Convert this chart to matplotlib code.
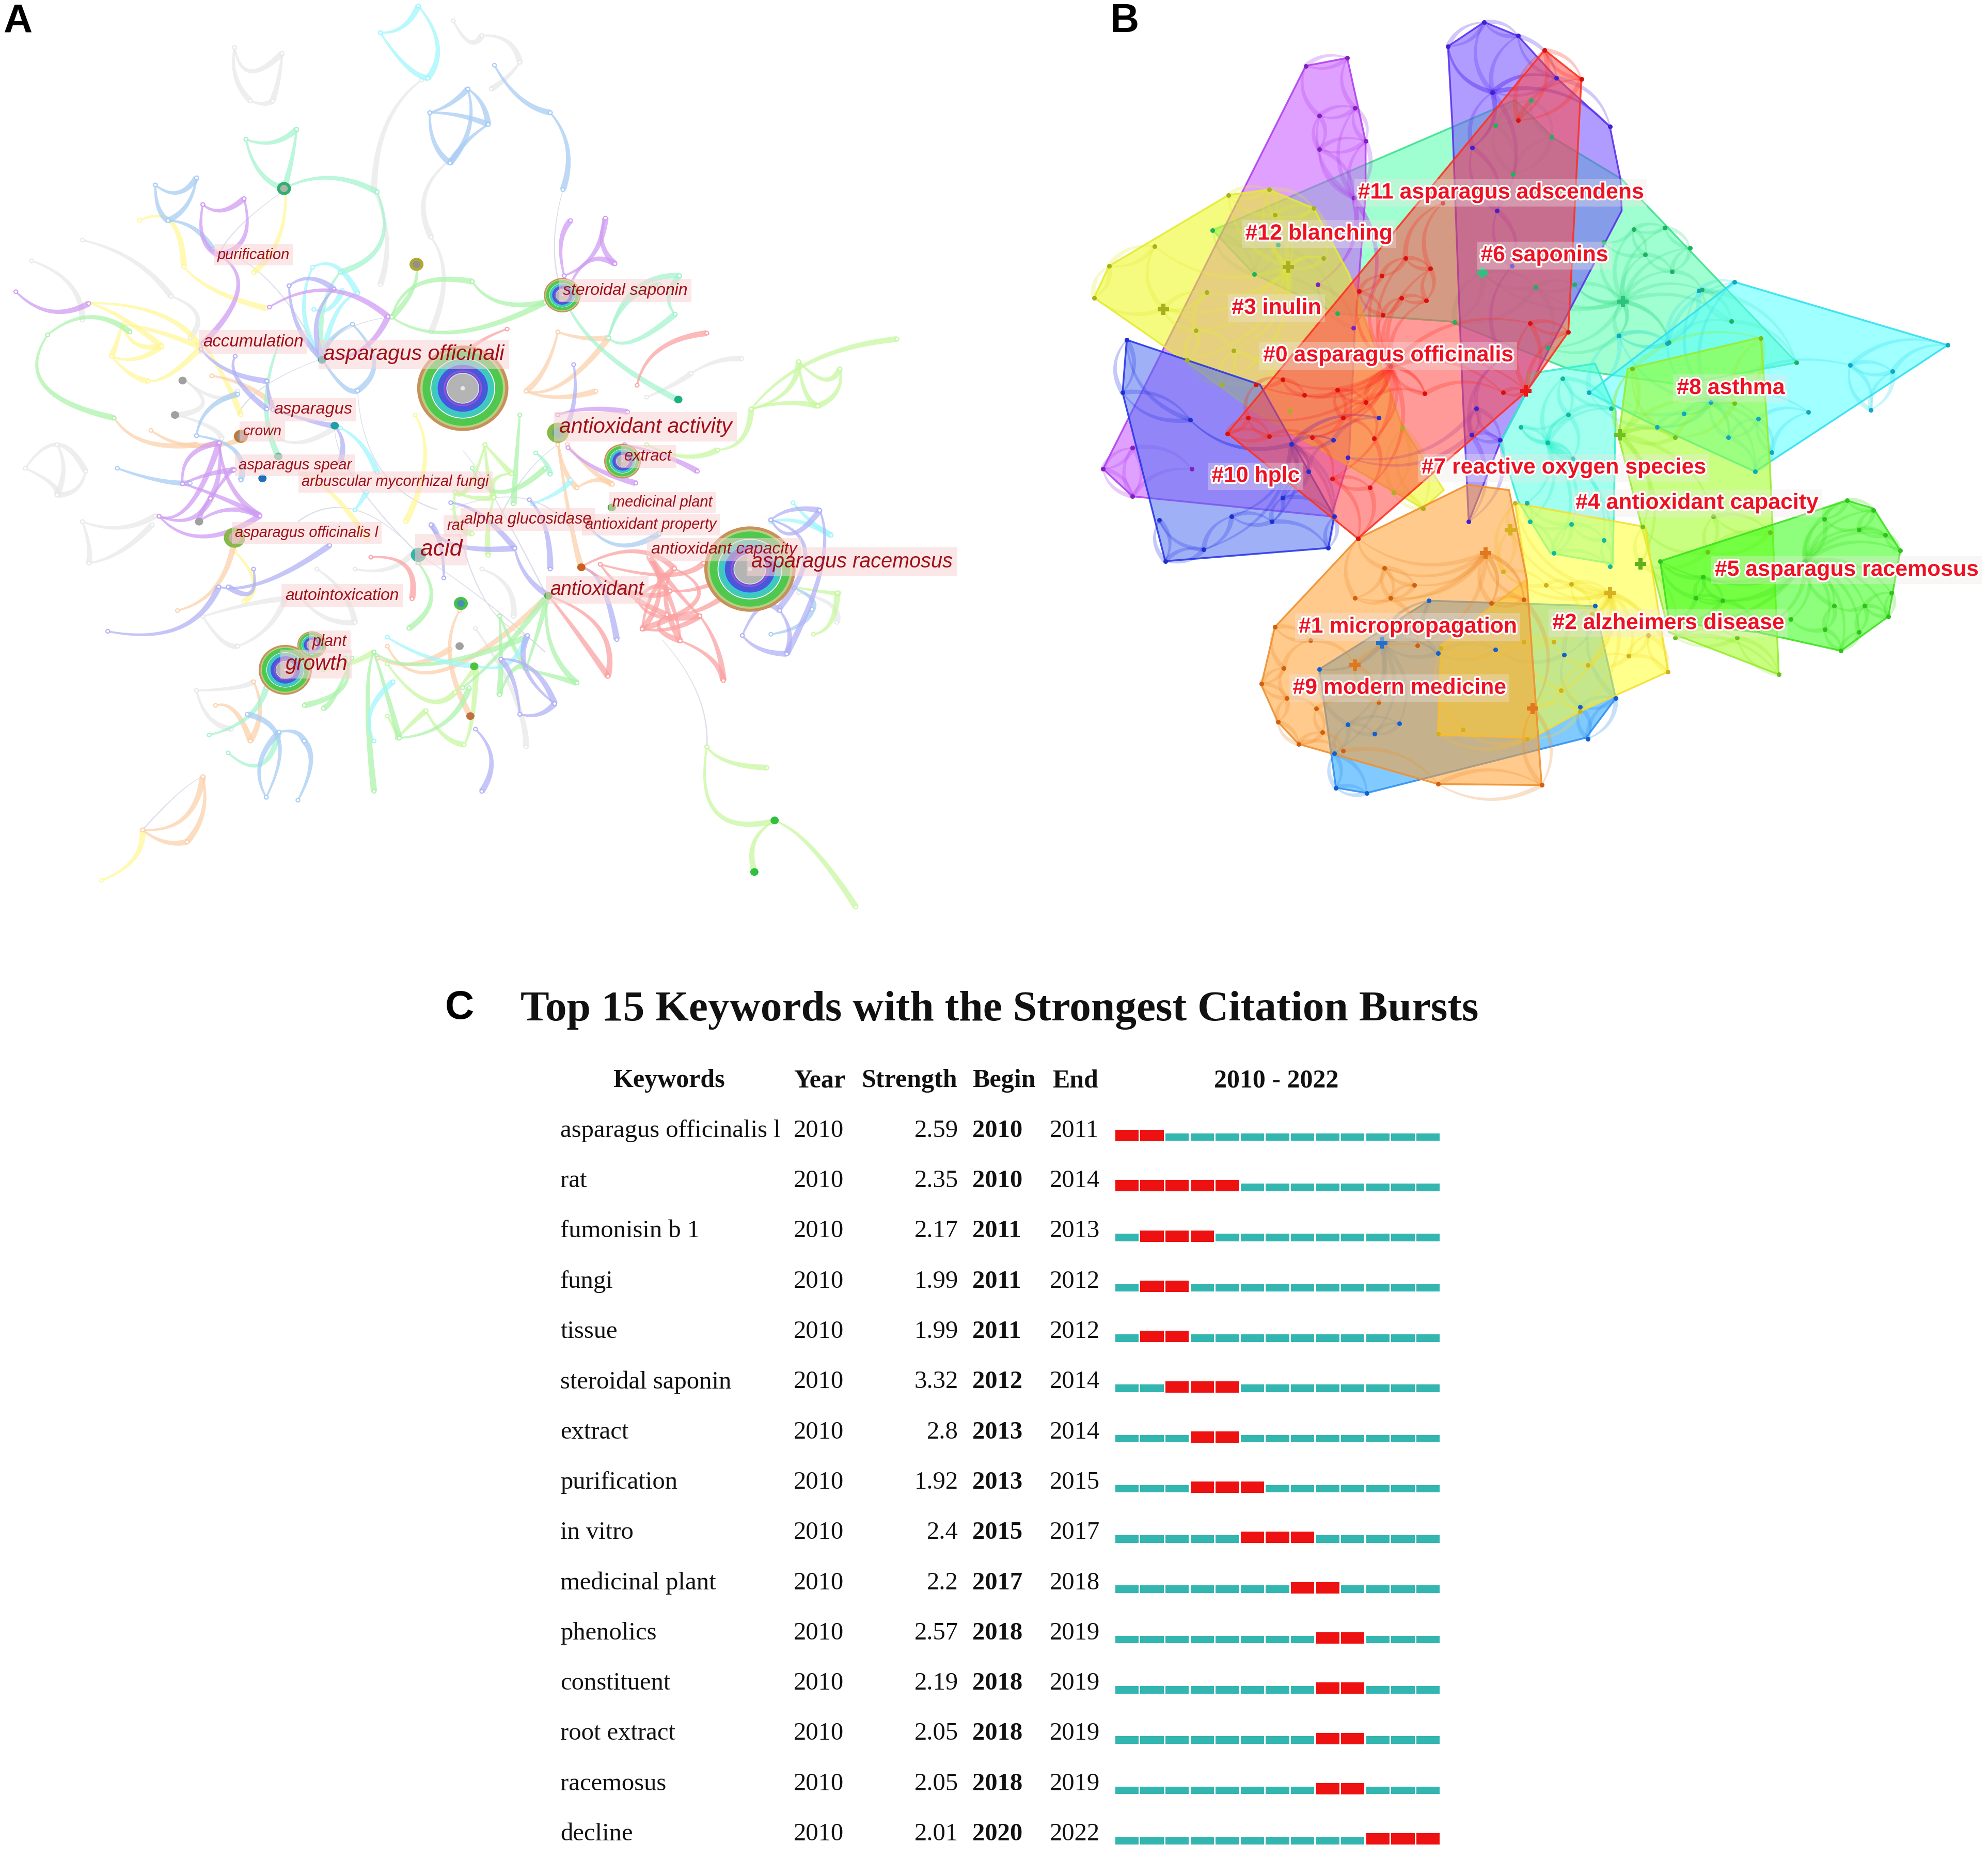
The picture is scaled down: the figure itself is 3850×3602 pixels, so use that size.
import numpy as np
import matplotlib
matplotlib.use('Agg')
import matplotlib.pyplot as plt
import matplotlib.patheffects as pe
from matplotlib.patches import Polygon, Ellipse, Rectangle
from matplotlib.transforms import IdentityTransform

W, H = 3850, 3602
SANS = ['Liberation Sans', 'DejaVu Sans']
SERIF = ['Liberation Serif', 'DejaVu Serif']

# ---- panel C table
keywords = ['asparagus officinalis l', 'rat', 'fumonisin b 1', 'fungi', 'tissue', 'steroidal saponin',
            'extract', 'purification', 'in vitro', 'medicinal plant', 'phenolics', 'constituent',
            'root extract', 'racemosus', 'decline']
kw_year = [2010] * 15
strength = ['2.59', '2.35', '2.17', '1.99', '1.99', '3.32', '2.8', '1.92', '2.4', '2.2', '2.57', '2.19', '2.05', '2.05', '2.01']
begin = [2010, 2010, 2011, 2011, 2011, 2012, 2013, 2013, 2015, 2017, 2018, 2018, 2018, 2018, 2020]
end = [2011, 2014, 2013, 2012, 2012, 2014, 2014, 2015, 2017, 2018, 2019, 2019, 2019, 2019, 2022]
years = list(range(2010, 2023))

# ---- panel A arcs: start, middle, end
a_grey = [(370,80,395,120,445,90),(370,80,372,130,395,170),(445,90,440,130,430,170),(395,170,415,175,430,170),
          (715,35,740,70,760,60),(760,60,800,70,820,105),(820,105,800,130,775,150),(665,135,610,210,590,320),
          (590,320,610,400,600,480),(710,270,670,330,680,400),(680,400,700,470,680,560),(130,405,210,440,270,500),
          (50,440,110,480,130,540),(270,500,310,530,300,570),(40,790,90,750,135,795),(40,790,80,815,90,835),
          (135,795,120,825,90,835),(90,750,100,790,90,835),(130,880,140,920,140,950),(130,880,190,890,245,870),
          (140,950,190,930,240,885),(290,640,320,680,280,700),(290,640,340,670,375,660),(280,700,330,720,350,740),
          (320,1040,390,1020,450,1010),(320,1040,350,1080,375,1090),(375,1090,420,1060,450,1010),(500,960,540,1000,560,1050),
          (470,1000,510,1040,560,1050),(560,960,610,960,650,935),(310,1165,370,1160,400,1150),(310,1165,330,1210,365,1230),
          (1090,630,1130,610,1170,605),(1020,670,1060,650,1090,630),(1260,1000,1310,1020,1320,1050),(760,960,800,990,810,1040),
          (750,1060,810,1170,830,1260),(440,740,480,745,530,720)]
a_blue = [(678,190,710,175,738,150),(738,150,760,175,770,210),(770,210,735,240,710,275),(678,190,685,240,710,275),
          (738,150,740,215,710,275),(678,190,725,195,770,210),(780,110,820,165,868,190),(868,190,895,250,888,320),
          (245,312,250,350,265,372),(245,312,280,325,310,300),(310,300,295,345,265,372),(265,372,305,385,335,420),
          (185,790,250,810,300,815),(310,735,330,690,375,665),(310,735,370,760,380,810),(556,547,590,610,564,659),
          (508,605,540,650,564,659),(556,547,525,570,508,605),(930,890,980,920,1040,900),(420,1345,410,1290,440,1235),
          (470,1350,490,1290,480,1250),(440,1235,465,1235,480,1250),(420,1345,440,1250,390,1205),(1216,1070,1260,1055,1281,1028),
          (1253,992,1280,1010,1281,1028)]
a_lav = [(170,1065,280,1060,345,990),(345,990,420,980,520,920),(400,960,395,1000,360,990),(820,1205,810,1150,790,1112),
         (875,1187,830,1130,832,1072),(820,1205,850,1205,875,1187),(790,1112,840,1130,875,1187),(711,848,760,870,812,925),
         (680,885,720,920,812,925),(812,925,830,970,863,1003),(835,843,860,890,868,960),(700,975,695,920,680,885),
         (1216,877,1250,860,1293,861),(1293,861,1295,960,1241,1103),(1216,877,1270,930,1230,1025),(1171,1072,1200,1025,1230,1030),
         (1171,1072,1200,1095,1241,1103),(1230,1030,1245,1065,1241,1103),(456,482,490,470,527,488),(456,482,470,550,508,605),
         (527,488,500,540,508,605),(750,1230,775,1280,760,1335),(919,959,950,990,973,1079),(905,615,905,680,885,740),
         (317,589,360,625,421,643),(421,643,425,670,431,691),(371,601,375,640,421,690),(431,691,490,710,525,718),
         (528,720,540,745,537,780),(1216,877,1250,900,1293,861)]
a_purple = [(25,492,80,525,140,512),(320,345,350,355,385,335),(320,345,320,400,345,430),(385,335,385,400,345,430),
            (345,430,375,490,320,580),(251,871,300,850,346,747),(288,816,300,770,346,747),(346,747,365,820,410,870),
            (288,816,350,840,410,870),(251,871,320,905,410,870),(346,747,345,800,332,841),(332,841,360,800,369,793),
            (288,816,330,800,369,793),(251,871,300,875,332,841),(332,841,320,860,313,880),(313,880,360,860,410,870),
            (890,465,885,410,900,372),(890,465,935,430,955,368),(955,368,950,410,970,445),(900,480,930,440,970,445),
            (985,750,1050,770,1100,795),(896,755,940,790,1003,815),(880,700,930,690,990,695),(425,518,520,490,612,534),
            (508,605,570,590,612,534)]
a_cyan = [(600,55,635,45,660,10),(660,10,690,75,675,132),(600,55,640,110,675,132),(493,451,480,530,508,609),
          (493,451,530,450,564,495),(564,495,530,530,508,609),(495,522,520,520,540,490),(1251,848,1280,880,1311,903),
          (1216,880,1260,880,1311,903),(537,722,570,750,595,797),(560,860,570,845,578,830),(840,850,880,830,900,810),
          (590,1250,585,1200,620,1150),(611,1075,680,1110,751,1123),(751,1123,800,1120,830,1075)]
a_mint = [(388,235,430,240,468,218),(388,235,410,290,448,318),(468,218,460,270,448,318),(960,570,1000,575,1065,530),
          (960,570,1000,490,1072,465),(1065,530,1055,500,1072,465),(890,500,950,590,1070,675),(960,570,990,510,1040,480),
          (360,1270,410,1290,440,1235),(448,318,520,300,595,324),(595,324,600,410,537,459),(537,459,510,520,508,605),
          (440,580,420,680,439,770),(845,764,860,780,868,800),(330,1240,390,1210,420,1160)]
a_green = [(75,565,140,535,205,560),(75,565,70,650,180,705),(618,535,720,560,860,510),(618,535,660,480,745,475),
           (745,475,790,510,860,510),(657,450,650,490,618,535),(820,700,815,770,810,850),(745,790,790,830,860,790),
           (863,1008,870,1090,910,1152),(590,1100,610,1170,630,1245),(630,1245,700,1220,740,1160),(590,1100,580,1180,590,1335),
           (788,1172,810,1130,830,1128),(788,1039,790,1110,788,1172),(788,1039,810,1090,830,1128),(830,1128,870,1140,910,1152),
           (545,1110,540,1160,480,1190),(555,1110,530,1170,510,1195),(590,1100,680,1120,830,1075),(660,950,680,1010,645,1060),
           (730,1160,790,1100,860,1010),(830,1128,850,1060,863,1008)]
a_lime = [(1185,690,1280,610,1415,572),(1185,690,1240,660,1260,610),(1260,610,1300,640,1325,622),(1325,622,1320,660,1290,685),
          (1185,690,1240,680,1290,685),(1260,610,1270,660,1290,685),(1132,759,1170,740,1185,690),(1020,750,1080,770,1132,759),
          (765,750,740,820,718,830),(765,750,790,780,807,799),(807,799,780,810,779,839),(779,839,770,890,770,937),
          (718,830,720,880,745,900),(765,750,770,800,779,839),(718,830,750,840,779,839),(1250,990,1310,1000,1321,1000),
          (1283,1070,1310,1050,1321,1000),(510,1130,550,1120,590,1100),(611,1120,670,1180,718,1168),(718,1168,740,1140,751,1123),
          (611,1208,625,1235,627,1245),(627,1245,650,1220,672,1199),(672,1199,700,1240,732,1256),(732,1256,745,1210,751,1123),
          (1115,1260,1130,1370,1222,1385),(1222,1385,1190,1420,1190,1470),(1115,1260,1150,1285,1210,1295),(1222,1385,1280,1430,1350,1530)]
a_yellow = [(220,372,270,375,290,450),(290,450,340,490,420,520),(139,511,250,530,317,586),(139,511,190,535,255,584),
            (193,547,215,580,255,584),(176,601,215,605,255,584),(176,601,205,630,234,643),(234,643,270,630,317,586),
            (193,547,185,575,176,601),(193,547,250,560,317,586),(450,320,440,400,400,460),(320,580,350,630,380,700),
            (160,1485,210,1450,225,1400),(370,930,400,980,385,1015),(655,700,670,780,640,880),(480,800,530,840,580,910)]
a_orange = [(225,1400,290,1380,320,1310),(225,1400,260,1420,295,1420),(320,1310,320,1370,295,1420),(180,705,230,745,310,750),
            (310,750,350,750,380,740),(238,726,290,750,346,747),(334,634,385,650,429,680),(830,660,890,645,960,570),
            (830,660,880,670,940,660),(880,560,920,570,960,570),(880,560,860,620,830,660),(280,1030,340,990,370,910),
            (340,1190,370,1200,395,1250),(595,1110,650,1120,710,1095),(725,1030,710,1110,742,1208),(880,740,890,790,910,823),
            (910,823,940,810,966,817),(895,750,930,790,966,817),(880,750,900,880,917,957),(400,1150,410,1200,395,1250),
            (611,1090,700,1130,860,1010)]
a_red = [(800,555,740,590,710,640),(1005,650,1040,590,1115,562),(585,940,640,955,650,1010),(919,955,1000,930,1064,959),
         (919,955,1000,1000,1057,997),(1013,1061,1030,1000,1064,959),(1064,959,1100,1010,1013,1061),(1073,1081,1060,1020,1024,939),
         (1104,1039,1070,1000,1024,939),(1013,1061,1060,1060,1104,1039),(1104,1039,1130,1090,1141,1148),(1073,1081,1120,1110,1141,1148),
         (865,1005,905,1060,959,1141),(865,1005,945,1060,959,1141),(1057,997,1110,990,1170,960),(947,952,1050,970,1110,950),
         (1024,939,1040,1000,1013,1061),(1064,959,1050,1010,1073,1081),(1006,1014,1040,1040,1104,1039),(1052,1037,1040,1060,1073,1081),
         (1006,1014,1030,990,1057,997),(947,952,990,1000,1052,1037),(1052,1037,1100,1030,1150,1000)]
a_groups = [(a_grey, '#e9e9e9'), (a_yellow, '#fff79a'), (a_orange, '#fcd2ac'), (a_lime, '#c9f8a2'), (a_green, '#adf3ad'),
            (a_mint, '#a6f3cf'), (a_cyan, '#a2f6fd'), (a_blue, '#a9cdf4'), (a_lav, '#b2b2f6'), (a_purple, '#cf9df2'), (a_red, '#fba2a2')]
# faint long lines
a_thin = [(450,320,380,380,345,430),(888,320,875,400,880,470),(1045,1080,1100,1170,1115,1260),(320,1310,280,1340,225,1400),
          (508,605,420,650,375,700),(528,720,560,810,660,935),(730,760,780,840,860,1000),(660,935,760,1010,860,1100),
          (335,420,420,470,500,590),(612,535,540,560,508,605),(564,659,600,790,690,860),(660,935,560,860,470,880),
          (880,750,830,800,790,870),(710,860,820,840,900,890),(832,1072,770,1020,725,900)]

# big citation nodes: x, y, radius
a_big = [(730,655,72),(1183,960,72),(450,1130,42),(887,498,29),(982,778,29),(492,1088,23)]
a_small = [(880,730,17,'#88b848','#5db08a'),(370,907,17,'#88b848','#c8b0a0'),(660,936,12,'#30b8a8','#6090a0'),
           (380,736,11,'#c07838','#909090'),(448,318,11,'#30b070','#a8b8a8'),(657,446,11,'#b0a830','#909090'),
           (727,1018,11,'#48c048','#4890b0')]
a_dots_x = [288,276,314,725,1070,528,414,439,917,865,965,748,742,1222,1190,508]
a_dots_y = [642,700,880,1090,674,718,807,770,957,1005,856,1124,1208,1384,1471,607]
a_dots_c = ['#a0a0a0','#a0a0a0','#a0a0a0','#a0a0a0','#20b080','#20a0a0','#2070c0','#60c0a0','#c86020','#50b040',
            '#40b040','#50c040','#c07040','#30c040','#30c040','#20a0a0']
ring_colors = ['#c8905a','#b8d080','#50c850','#ffffff','#40c8b8','#38c8e0','#4858d8','#a050d8','#5858d8','#e0e0e8','#b4b4b4','#e8e8e8']
ring_frac = [1.0,0.93,0.88,0.71,0.69,0.58,0.55,0.42,0.39,0.36,0.34,0.05]

a_labels = ['asparagus officinali','asparagus racemosus','antioxidant activity','accumulation','steroidal saponin','acid',
            'growth','antioxidant','extract','plant','crown','asparagus','asparagus spear','arbuscular mycorrhizal fungi',
            'asparagus officinalis l','rat','alpha glucosidase','antioxidant property','medicinal plant','antioxidant capacity',
            'autointoxication','purification']
a_lab_x = [510,1185,882,320,888,663,450,868,985,493,383,432,376,476,371,705,732,923,966,1027,450,343]
a_lab_y = [598,948,720,577,490,927,1120,995,770,1083,728,691,785,813,899,887,876,885,848,927,1005,430]
a_lab_s = [24,23.2,24,19.3,18.7,26,23.6,22,18,18,16.5,19,17.2,17,17,17,18,17,17,18.9,18.6,17]

# ---- panel B clusters: outline, nodes
b_violet = [(657,88),(718,42),(775,68),(840,148),(930,240),(948,340),(950,400),(745,840),(692,990),(680,700),(665,250)]
b_violet_n = [(657,88),(718,42),(775,68),(840,148),(732,175),(930,240),(698,280),(740,400),(765,505),(750,680),(705,775),(745,835),(697,825),(692,990),(488,868)]
b_purple = [(417,125),(487,110),(518,268),(518,370),(500,620),(490,870),(460,980),(125,942),(75,890)]
b_purple_n = [(417,125),(487,110),(440,220),(500,205),(518,268),(440,283),(498,375),(437,540),(497,622),(225,890),(75,890),(125,942),(125,850)]
b_mint = [(260,437),(770,190),(835,262),(950,340),(1245,688),(1050,730),(860,700),(660,610),(470,595),(330,520)]
b_mint_n = [(952,572),(737,238),(797,190),(832,260),(767,330),(970,435),(1023,432),(1065,470),(920,460),(990,483),(1035,515),(715,517),(805,545),(668,612),(470,595),(330,520),(260,437),(370,465),(870,540),(825,660),(945,637),(1030,650),(1245,688),(1085,550),(1135,610)]
b_yellow2 = [(60,565),(85,505),(287,370),(355,360),(430,395),(490,520),(580,810),(650,930),(615,965),(330,780),(220,690)]
b_yellow2_n = [(85,505),(60,565),(162,467),(177,587),(287,370),(355,360),(365,408),(430,395),(388,507),(447,490),(232,627),(250,555),(295,665),(217,683),(275,730),(390,780),(580,812),(565,935),(615,965)]
b_hplc = [(115,645),(340,730),(465,980),(455,1040),(180,1065),(108,745)]
b_hplc_n = [(115,645),(108,745),(222,797),(393,843),(463,835),(422,895),(540,793),(465,980),(360,990),(378,945),(292,980),(170,987),(245,1043),(180,1065),(455,1040)]
b_cyan = [(1140,535),(1500,655),(1175,895),(1010,810),(895,745)]
b_cyan_n = [(1140,535),(1080,552),(1500,655),(1407,705),(1335,693),(1370,778),(1265,782),(1180,795),(1203,858),(1175,895),(1130,830),(1100,763),(1010,810),(895,745),(1027,652),(945,637),(1055,785)]
b_teal = [(790,710),(905,690),(940,780),(935,1070),(830,1050),(775,950),(745,840),(790,742)]
b_teal_n = [(850,718),(780,810),(860,787),(825,840),(868,870),(932,775),(795,990),(865,995),(835,1050),(930,1075),(790,955),(920,1025)]
b_lime = [(1185,640),(1200,880),(1215,1280),(1030,1200),(945,830),(960,700)]
b_lime_n = [(1185,642),(1140,765),(968,700),(947,825),(1040,830),(1200,1010),(1095,1048),(1145,1210),(1215,1280),(1040,1210),(982,1070),(985,1000),(1105,980)]
b_green = [(1015,1065),(1330,950),(1375,965),(1420,1045),(1400,1170),(1320,1235),(1180,1200),(1030,1180)]
b_green_n = [(1015,1065),(1330,950),(1375,968),(1292,985),(1350,1005),(1395,1015),(1420,1045),(1405,1125),(1400,1170),(1320,1235),(1260,1065),(1308,1150),(1360,1150),(1350,1200),(1293,1195),(1235,1175),(1180,1195),(1030,1180),(1075,1135),(1087,1095),(1120,1140)]
b_yellow = [(770,955),(990,1000),(1028,1275),(880,1350),(800,1400),(640,1395),(645,1225),(790,1100)]
b_yellow_n = [(930,1125),(750,1085),(822,1110),(865,1108),(900,1165),(962,1245),(995,1205),(1028,1275),(835,1218),(785,1218),(893,1262),(848,1310),(800,1345),(790,1402),(682,1385),(640,1393),(645,1230),(770,955),(762,1005),(880,1350)]
b_orange = [(505,1022),(690,920),(760,930),(790,1100),(815,1490),(640,1488),(405,1412),(370,1370),(342,1300),(365,1190)]
b_orange_n = [(720,1050),(550,1078),(600,1110),(560,1135),(500,1135),(365,1190),(425,1215),(605,1225),(500,1262),(380,1268),(342,1298),(385,1325),(435,1345),(370,1370),(405,1412),(445,1390),(480,1425),(540,1333),(640,1488),(815,1490),(785,1138),(730,1145),(800,1345),(505,1022)]
b_blue = [(440,1270),(625,1140),(905,1150),(940,1325),(890,1400),(520,1505),(468,1495)]
b_blue_n = [(625,1140),(905,1150),(545,1220),(440,1270),(737,1233),(853,1243),(940,1325),(880,1342),(893,1402),(520,1505),(468,1495),(488,1375),(533,1393),(575,1373),(465,1430),(640,1240)]
b_red = [(820,95),(882,150),(860,630),(790,742),(505,1022),(285,822)]
b_red_n = [(820,95),(882,150),(775,228),(860,630),(790,742),(648,385),(585,490),(627,510),(545,523),(507,553),(578,565),(620,570),(547,598),(795,613),(618,747),(750,745),(333,730),(378,720),(415,750),(470,740),(518,763),(320,793),(285,823),(355,828),(428,830),(480,793),(532,832),(462,908),(525,925),(505,1022),(560,695)]
# outline, nodes, hub index, fill, edge, node colour
b_clusters = [(b_mint, b_mint_n, 0, '#52ffaa', '#40e090', '#20b060'), (b_purple, b_purple_n, 6, '#c752ff', '#b040f0', '#8020c0'),
              (b_yellow2, b_yellow2_n, 8, '#ebf917', '#e4ec30', '#a8b020'), (b_hplc, b_hplc_n, 3, '#526ff2', '#2838e8', '#2030d0'),
              (b_violet, b_violet_n, 4, '#6f4bff', '#5a30f0', '#4020d0'), (b_cyan, b_cyan_n, 11, '#52ffff', '#30e0f0', '#10a8c0'),
              (b_teal, b_teal_n, 3, '#52ffe0', '#30f0d0', '#10b8a0'), (b_lime, b_lime_n, 3, '#9bff18', '#98ec30', '#70c020'),
              (b_green, b_green_n, 10, '#30ff10', '#40e020', '#30c020'), (b_blue, b_blue_n, 2, '#189fff', '#3090f0', '#1060d0'),
              (b_yellow, b_yellow_n, 0, '#ffff2e', '#f4e030', '#d0b020'), (b_orange, b_orange_n, 0, '#ff9f2e', '#f09030', '#d06010'),
              (b_red, b_red_n, 30, '#ff4744', '#ff3020', '#d81010')]
# cross shaped hub nodes
b_cross = [(788,742,'#e81818'),(952,572,'#30c080'),(715,517,'#30c080'),(947,825,'#70c020'),(982,1070,'#60b020'),(720,1050,'#e07820'),
           (500,1262,'#e07820'),(545,1220,'#2070d0'),(930,1125,'#d8b020'),(762,1005,'#d8b020'),(800,1345,'#e07820'),(388,507,'#a8b020'),(177,587,'#a8b020')]
b_labels = ['#11 asparagus adscendens','#12 blanching','#6 saponins','#3 inulin','#0 asparagus officinalis','#8 asthma','#10 hplc',
            '#7 reactive oxygen species','#4 antioxidant capacity','#5 asparagus racemosus','#2 alzheimers disease',
            '#1 micropropagation','#9 modern medicine']
b_lab_x = [505,315,712,292,345,1043,258,612,872,1107,833,405,395]
b_lab_y = [366,444,485,585,675,737,904,888,955,1082,1183,1190,1306]


def arc_shape(x0, y0, mx, my, x1, y1, w0, w1):
    # tapered band along a quadratic curve through the middle point
    cx, cy = 2 * mx - (x0 + x1) / 2, 2 * my - (y0 + y1) / 2
    t = np.linspace(0, 1, 30)
    px = (1 - t) ** 2 * x0 + 2 * t * (1 - t) * cx + t ** 2 * x1
    py = (1 - t) ** 2 * y0 + 2 * t * (1 - t) * cy + t ** 2 * y1
    dx, dy = np.gradient(px), np.gradient(py)
    n = np.hypot(dx, dy) + 1e-6
    w = w0 + (w1 - w0) * t
    top = np.c_[px - dy / n * w / 2, py + dx / n * w / 2]
    bot = np.c_[px + dy / n * w / 2, py - dx / n * w / 2]
    return np.vstack([top, bot[::-1]])


def px_axes(fig, x0, y0, x1, y1, xlim, ylim):
    ax = fig.add_axes([x0 / W, 1 - y1 / H, (x1 - x0) / W, (y1 - y0) / H])
    ax.set_xlim(*xlim)
    ax.set_ylim(*ylim)
    ax.axis('off')
    return ax


fig = plt.figure(figsize=(W / 100, H / 100), dpi=100, facecolor='white')

# panel A
axa = px_axes(fig, 0, 0, 1925, 1800, (0, 1568), (1568, 0))
for a in a_thin:
    axa.add_patch(Polygon(arc_shape(*a, 1, 2.2), closed=True, fc='#dcdfea', ec='none'))
for arcs, col in a_groups:
    for a in arcs:
        axa.add_patch(Polygon(arc_shape(*a, 3, 10), closed=True, fc=col, ec='none', alpha=0.75))
        for x, y in (a[:2], a[4:]):
            axa.add_patch(Ellipse((x, y), 6, 6, fc='white', ec=col, lw=1.5))

for x, y, r in a_big:
    for f, c in zip(ring_frac, ring_colors):
        axa.add_patch(Ellipse((x, y), 2 * r * f, 2 * r * f, fc=c, ec='none'))
for x, y, r, c1, c2 in a_small:
    axa.add_patch(Ellipse((x, y), 2 * r, 2 * r, fc=c1, ec='none'))
    axa.add_patch(Ellipse((x, y), 1.1 * r, 1.1 * r, fc=c2, ec='none'))
for x, y, c in zip(a_dots_x, a_dots_y, a_dots_c):
    axa.add_patch(Ellipse((x, y), 13, 13, fc=c, ec='none'))

# pink bands sit under all the words, sized from each label's extent
renderer = fig.canvas.get_renderer()
for s, x, y, fs in zip(a_labels, a_lab_x, a_lab_y, a_lab_s):
    t = axa.text(x, y, s, color='#a01018', fontsize=fs * 1.23, zorder=8, style='italic', family=SANS, va='center', ha='left')
    bb = t.get_window_extent(renderer)
    pad = fs * 0.39
    axa.add_patch(Rectangle((bb.x0 - pad, bb.y0 - pad), bb.width + 2 * pad, bb.height + 2 * pad,
                            transform=IdentityTransform(), fc='#f9d4d4', ec='none', alpha=0.55, zorder=7))

# panel B
axb = px_axes(fig, 2050, 0, 3850, 1600, (0, 1568), (1568, 0))
for poly, nodes, hub, fc, ec, nc in b_clusters:
    axb.add_patch(Polygon(poly, closed=True, fc=fc, ec='none', alpha=0.55))
    axb.add_patch(Polygon(poly, closed=True, fc='none', ec=ec, lw=2.5, alpha=0.9))
    pts = np.array(nodes, dtype=float)
    for i, p in enumerate(pts):
        # link every node to its nearest neighbours and to the cluster hub
        d = np.hypot(*(pts - p).T)
        targets = list(np.argsort(d)[1:3])
        if i != hub and d[hub] < 260:
            targets.append(hub)
        for j in targets:
            q = pts[j]
            m = (p + q) / 2 + np.array([-(q - p)[1], (q - p)[0]]) * 0.16
            axb.add_patch(Polygon(arc_shape(*p, *m, *q, 2.5, 9), closed=True, fc=ec, ec='none', alpha=0.27))
    axb.scatter(pts[:, 0], pts[:, 1], s=42, color=nc, marker='o', linewidths=0, zorder=5)
for x, y, c in b_cross:
    axb.scatter(x, y, s=230, color=c, marker='P', linewidths=0, zorder=6)
for s, x, y in zip(b_labels, b_lab_x, b_lab_y):
    axb.text(x, y, s, color='#ee1122', fontsize=30.8, fontweight='bold', family=SANS, va='center', ha='left', zorder=8,
             bbox=dict(fc='#efe6e6', ec='none', alpha=0.35, pad=5),
             path_effects=[pe.withStroke(linewidth=5, foreground='white')])

# panel C
row0, row_h = 2185.0, 97.3
table_top, table_bot = 2100, 3602
lim_y = ((table_bot - row0) / row_h, (table_top - row0) / row_h)
axt = px_axes(fig, 0, table_top, W, table_bot, (0, W), lim_y)
axbars = px_axes(fig, 2158, table_top, 2790, table_bot, (years[0], years[-1] + 1), lim_y)
hdr = dict(fontsize=36, fontweight='bold', family=SERIF, va='center', color='#111111')
hdr_y = (2093 - row0) / row_h
axt.text(1295, hdr_y, 'Keywords', ha='center', clip_on=False, **hdr)
axt.text(1537, hdr_y, 'Year', ha='left', clip_on=False, **hdr)
axt.text(1668, hdr_y, 'Strength', ha='left', clip_on=False, **hdr)
axt.text(1883, hdr_y, 'Begin', ha='left', clip_on=False, **hdr)
axt.text(2038, hdr_y, 'End', ha='left', clip_on=False, **hdr)
axt.text(2472, hdr_y, '2010 - 2022', ha='center', clip_on=False, **hdr)
cell = dict(fontsize=35, family=SERIF, va='center', color='#111111')
for i in range(len(keywords)):
    yt = i + 0.05
    axt.text(1085, yt, keywords[i], ha='left', **cell)
    axt.text(1537, yt, str(kw_year[i]), ha='left', **cell)
    axt.text(1856, yt, strength[i], ha='right', **cell)
    axt.text(1883, yt, str(begin[i]), ha='left', fontweight='bold', **cell)
    axt.text(2033, yt, str(end[i]), ha='left', **cell)
    for y in years:
        on = begin[i] <= y <= end[i]
        h = 0.226 if on else 0.15
        yc = i + (0.144 if on else 0.175)
        axbars.barh(yc, 0.93, left=y + 0.035, height=h, color='#ee1111' if on else '#33b5b0', linewidth=0)

fig.text(1936 / W, 1 - 1956 / H, 'Top 15 Keywords with the Strongest Citation Bursts', fontsize=60, fontweight='bold',
         family=SERIF, ha='center', va='center', color='#111111')
for s, x, y in (('A', 6, 42), ('B', 2150, 42), ('C', 862, 1952)):
    fig.text(x / W, 1 - y / H, s, fontsize=56, fontweight='bold', family=SANS, ha='left', va='center', color='black')

fig.savefig('out.png', dpi=100, facecolor='white')
